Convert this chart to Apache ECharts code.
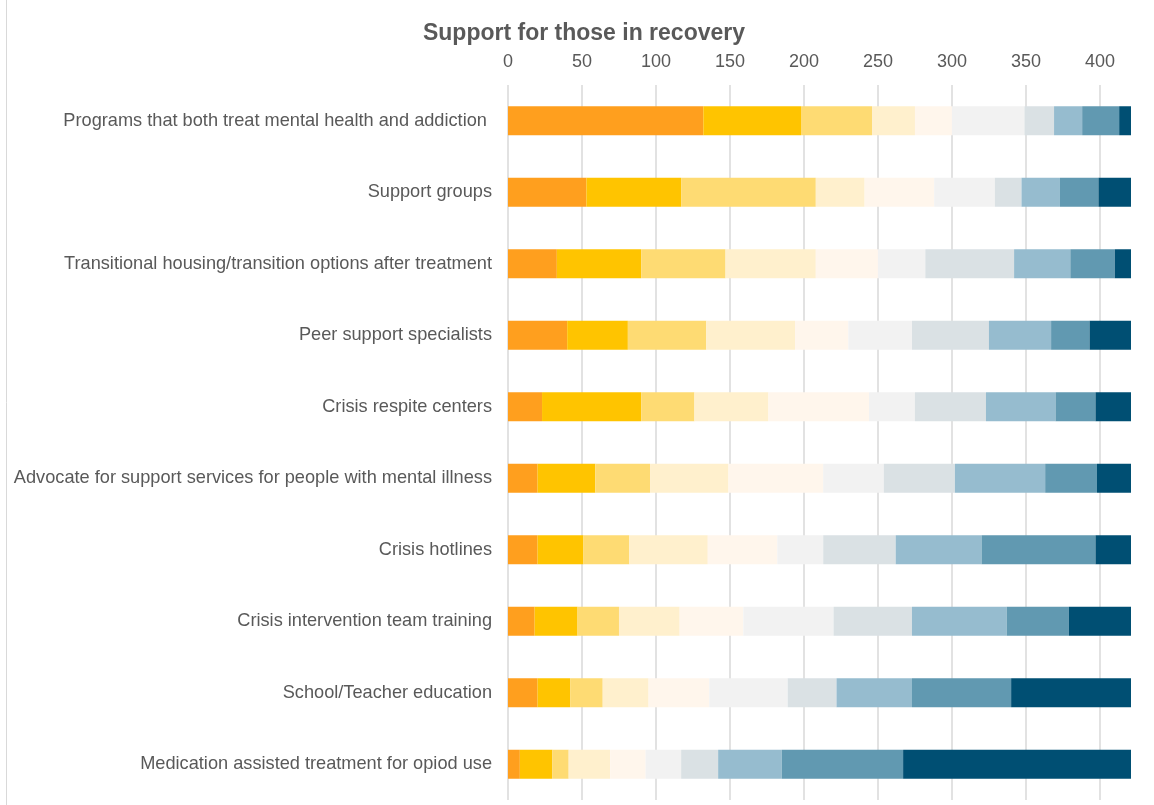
<!DOCTYPE html>
<html>
<head>
<meta charset="utf-8">
<title>Support for those in recovery</title>
<script src="https://cdn.jsdelivr.net/npm/echarts@6/dist/echarts.min.js"></script>
<style>
  html, body { margin: 0; padding: 0; background: #ffffff; }
  #chart { width: 1154px; height: 805px; }
</style>
</head>
<body>
<div id="chart"></div>
<script>
// Support options, top to bottom
const categories = [
  'Programs that both treat mental health and addiction ',
  'Support groups',
  'Transitional housing/transition options after treatment',
  'Peer support specialists',
  'Crisis respite centers',
  'Advocate for support services for people with mental illness',
  'Crisis hotlines',
  'Crisis intervention team training',
  'School/Teacher education',
  'Medication assisted treatment for opiod use'
];

// Responses per rank (1 = highest priority ... 10 = lowest), one array per rank
const rank1  = [132, 53, 33, 40, 23, 20, 20, 18, 20, 8];
const rank2  = [66, 64, 57, 41, 67, 39, 31, 29, 22, 22];
const rank3  = [48, 91, 57, 53, 36, 37, 31, 28, 22, 11];
const rank4  = [29, 33, 61, 60, 50, 53, 53, 41, 31, 28];
const rank5  = [25, 47, 42, 36, 68, 64, 47, 43, 41, 24];
const rank6  = [49, 41, 32, 43, 31, 41, 31, 61, 53, 24];
const rank7  = [20, 18, 60, 52, 48, 48, 49, 53, 33, 25];
const rank8  = [19, 26, 38, 42, 47, 61, 58, 64, 51, 43];
const rank9  = [25, 26, 30, 26, 27, 35, 77, 42, 67, 82];
const rank10 = [8, 22, 11, 28, 24, 23, 24, 42, 81, 154];

const rankNames = ['1', '2', '3', '4', '5', '6', '7', '8', '9', '10'];
const rankData = [rank1, rank2, rank3, rank4, rank5, rank6, rank7, rank8, rank9, rank10];
const rankColors = [
  '#FF9F1E', '#FFC400', '#FEDB73', '#FFF0CD', '#FFF6EC',
  '#F2F2F2', '#DAE1E4', '#96BCCF', '#6199B1', '#004F73'
];

const xTicks = { min: 0, max: 421, interval: 50 };

const chart = echarts.init(document.getElementById('chart'), null, { renderer: 'canvas' });

const textColor = '#595959';
const fontFamily = '"Liberation Sans", Arial, sans-serif';

chart.setOption({
  animation: false,
  backgroundColor: '#ffffff',
  title: {
    text: 'Support for those in recovery',
    left: 579,
    textAlign: 'center',
    top: 17,
    textStyle: {
      color: textColor,
      fontSize: 23,
      fontWeight: 'bold',
      fontFamily: fontFamily
    }
  },
  grid: {
    left: 508,
    right: 23,
    top: 85,
    bottom: 5,
    containLabel: false
  },
  xAxis: {
    type: 'value',
    position: 'top',
    min: xTicks.min,
    max: xTicks.max,
    interval: xTicks.interval,
    axisLine: { show: false },
    axisTick: { show: false },
    axisLabel: {
      color: textColor,
      fontSize: 18,
      fontFamily: fontFamily,
      margin: 14,
      showMaxLabel: false
    },
    splitLine: {
      show: true,
      showMaxLine: false,
      lineStyle: { color: '#D9D9D9', width: 1.5 }
    }
  },
  yAxis: {
    type: 'category',
    inverse: true,
    data: categories,
    axisLine: { show: false },
    axisTick: { show: false },
    axisLabel: {
      color: textColor,
      fontSize: 18.2,
      fontFamily: fontFamily,
      margin: 16
    }
  },
  series: rankData.map((vals, i) => ({
    name: rankNames[i],
    type: 'bar',
    stack: 'ranks',
    barWidth: 29,
    data: vals,
    itemStyle: { color: rankColors[i] },
    emphasis: { disabled: true }
  })),
  graphic: [
    {
      type: 'line',
      shape: { x1: 6.5, y1: 0, x2: 6.5, y2: 805 },
      style: { stroke: '#D9D9D9', lineWidth: 1 },
      silent: true
    }
  ]
});
</script>
</body>
</html>
